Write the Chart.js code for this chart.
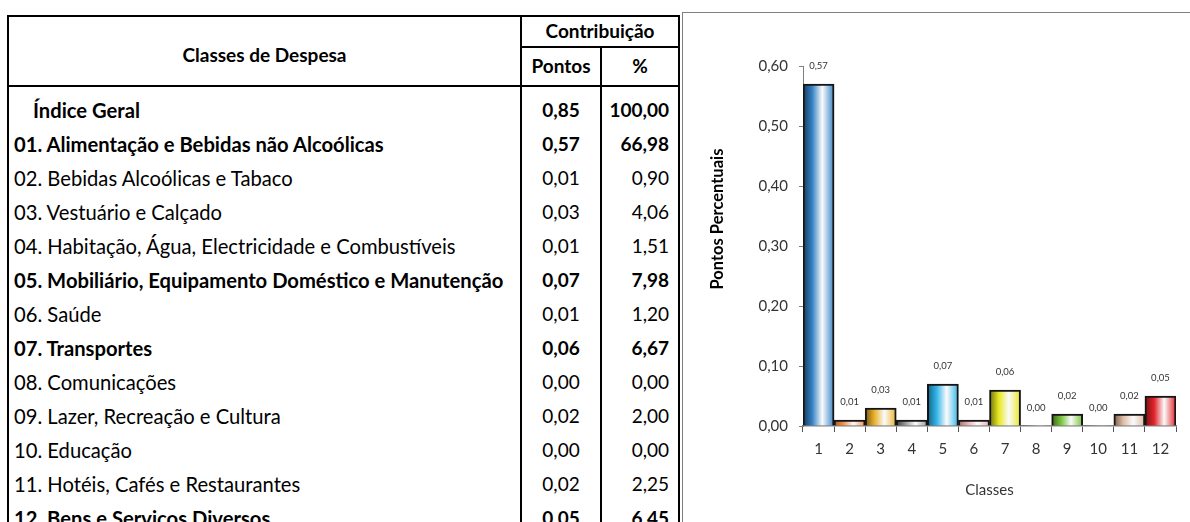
<!DOCTYPE html>
<html><head><meta charset="utf-8">
<script src="https://cdn.jsdelivr.net/npm/chart.js@4.4.1/dist/chart.umd.min.js"></script>
<style>
html,body{margin:0;padding:0;background:#fff;}
body{width:1190px;height:522px;overflow:hidden;position:relative;font-family:Lato,"Open Sans",sans-serif;color:#000;}
.ln{position:absolute;background:#000;}
.tx{position:absolute;white-space:nowrap;line-height:20px;height:20px;font-size:19px;}
#frame{position:absolute;left:682px;top:12px;width:600px;height:600px;border:1px solid #7f7f7f;}
#wrap{position:absolute;left:684px;top:14px;width:506px;height:508px;}
</style></head><body>
<div id="table"></div>
<div id="frame"></div>
<div id="wrap"><canvas id="c" width="506" height="508"></canvas></div>
<script>
// ---- data ----
const rowNames = [
  "Índice Geral",
  "01. Alimentação e Bebidas não Alcoólicas",
  "02. Bebidas Alcoólicas e Tabaco",
  "03. Vestuário e Calçado",
  "04. Habitação, Água, Electricidade e Combustíveis",
  "05. Mobiliário, Equipamento Doméstico e Manutenção",
  "06. Saúde",
  "07. Transportes",
  "08. Comunicações",
  "09. Lazer, Recreação e Cultura",
  "10. Educação",
  "11. Hotéis, Cafés e Restaurantes",
  "12. Bens e Serviços Diversos"
];
const rowPontos = [0.85, 0.57, 0.01, 0.03, 0.01, 0.07, 0.01, 0.06, 0.00, 0.02, 0.00, 0.02, 0.05];
const rowPercent = [100.00, 66.98, 0.90, 4.06, 1.51, 7.98, 1.20, 6.67, 0.00, 2.00, 0.00, 2.25, 6.45];
const classLabels = ["1","2","3","4","5","6","7","8","9","10","11","12"];
const classValues = [0.57, 0.01, 0.03, 0.01, 0.07, 0.01, 0.06, 0.00, 0.02, 0.00, 0.02, 0.05];
const yAxisTitle = "Pontos Percentuais";
const xAxisTitle = "Classes";
const headerMain = "Classes de Despesa";
const headerGroup = "Contribuição";
const headerCols = ["Pontos", "%"];

// ---- styles (kept apart from data) ----
const boldRows = [true, true, false, false, false, true, false, true, false, false, false, false, true];
const barDark = ["#16395c","#a85a24","#7a5810","#3c3c3c","#13607f","#a07070","#707010","#555555","#3a6418","#555555","#7a5a48","#7a1010"];
const barBase = ["#3583c6","#f2904a","#eab22c","#9a9a9a","#33b5ea","#e8b0b0","#e8e820","#999999","#76c43a","#999999","#dcbca4","#e2242c"];

const fmt = v => v.toFixed(2).replace('.', ',');

// ---- table ----
const T = document.getElementById('table');
function line(l,t,w,h){const d=document.createElement('div');d.className='ln';d.style.cssText=`left:${l}px;top:${t}px;width:${w}px;height:${h}px`;T.appendChild(d);}
function text(s,l,cy,w,align,bold,size){const d=document.createElement('div');d.className='tx';d.textContent=s;
  d.style.left=l+'px';d.style.top=(cy-10)+'px';if(w){d.style.width=w+'px';d.style.textAlign=align;}
  if(size) d.style.fontSize=size+'px';
  d.style.fontWeight=bold?'700':'400';T.appendChild(d);}
line(7,15,673,2);line(7,15,2,510);line(678,15,2,510);line(520,15,2,510);line(600,46,2,480);
line(520,46,160,2);line(7,85,673,2);
text(headerMain,9,55,511,'center',true);
text(headerGroup,522,31,156,'center',true);
text(headerCols[0],522,66,78,'center',true);
text(headerCols[1],602,66,76,'center',true);
rowNames.forEach((n,i)=>{
  const cy=110+34*i;
  text(n, i===0?33:14, cy, 0, 'left', boldRows[i], 20.2);
  text(fmt(rowPontos[i]),522,cy,78,'center',boldRows[i]);
  text(fmt(rowPercent[i]),602,cy,67,'right',boldRows[i]);
});

// ---- chart ----
const barLabels = {
  id:'barLabels',
  afterDatasetsDraw(chart){
    const ctx=chart.ctx;const meta=chart.getDatasetMeta(0);
    ctx.save();ctx.font='9.5px Lato, sans-serif';ctx.fillStyle='#333';ctx.textAlign='center';ctx.textBaseline='middle';
    meta.data.forEach((bar,i)=>{ctx.fillText(fmt(classValues[i]),bar.x,bar.y-18);});
    ctx.restore();
  }
};
const yTitle = {
  id:'yTitle',
  afterDraw(chart){
    const ctx=chart.ctx;ctx.save();ctx.translate(34,205);ctx.rotate(-Math.PI/2);
    ctx.font='bold 16.5px Lato, sans-serif';ctx.fillStyle='#000';ctx.textAlign='center';ctx.textBaseline='middle';
    ctx.fillText(yAxisTitle,0,0);ctx.restore();
  }
};
function grad(context){
  const chart=context.chart;const xs=chart.scales.x;const ca=chart.chartArea;
  if(!ca||!xs) return barBase[context.dataIndex];
  const i=context.dataIndex;const cx=xs.getPixelForValue(i);const w=xs.width/classLabels.length;
  const g=chart.ctx.createLinearGradient(cx-w/2,0,cx+w/2,0);
  g.addColorStop(0,barDark[i]);g.addColorStop(0.3,barBase[i]);g.addColorStop(0.62,'#fbfbfb');g.addColorStop(1,barBase[i]);
  return g;
}
new Chart(document.getElementById('c'),{
  type:'bar',
  data:{labels:classLabels,datasets:[{data:classValues,backgroundColor:grad,
    borderColor:'#151515',borderWidth:c=>classValues[c.dataIndex]===0?0:2,borderSkipped:'bottom',
    barPercentage:1,categoryPercentage:1}]},
  options:{
    responsive:false,animation:false,devicePixelRatio:1,
    layout:{padding:{top:52,right:14,left:0,bottom:0}},
    plugins:{legend:{display:false},tooltip:{enabled:false}},
    scales:{
      x:{
        grid:{offset:true,drawOnChartArea:false,drawTicks:true,tickLength:6,color:'#555'},
        border:{color:'#7f7f7f',width:1.5},
        ticks:{font:{family:'Lato',size:15},color:'#333',padding:8,maxRotation:0},
        title:{display:true,text:xAxisTitle,font:{family:'Lato',size:15},color:'#333',padding:{top:0,bottom:23}},
        afterFit(s){s.height=96;}
      },
      y:{
        min:0,max:0.6,
        grid:{drawOnChartArea:false,drawTicks:true,tickLength:4,color:'#7f7f7f'},
        border:{color:'#7f7f7f',width:1},
        ticks:{stepSize:0.1,font:{family:'Lato',size:15},color:'#333',padding:11,callback:v=>fmt(v)},
        afterFit(s){s.width=119;}
      }
    }
  },
  plugins:[barLabels,yTitle]
});
</script>
</body></html>
